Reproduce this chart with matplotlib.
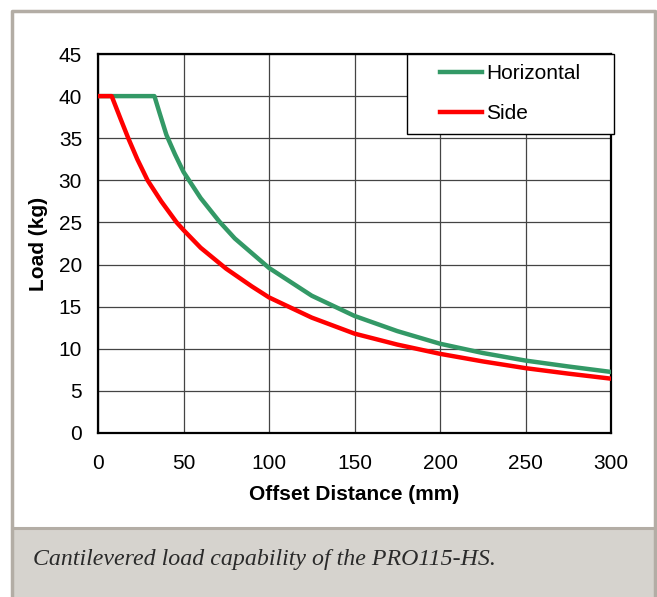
import matplotlib

matplotlib.use("Agg")

import matplotlib.pyplot as plt
from matplotlib.lines import Line2D
from matplotlib.patches import Rectangle

W, H = 657, 597

# values
horiz_x = [0, 33, 36, 40, 45, 50, 60, 71, 80, 100, 125, 150, 175, 200, 225, 250, 275, 300]
horiz_y = [40, 40, 38, 35.4, 33.1, 31.0, 27.9, 25.1, 23.1, 19.6, 16.3, 13.9, 12.1, 10.6, 9.5, 8.6, 7.9, 7.25]
side_x = [0, 8, 13, 17.7, 23, 29, 37, 46, 50, 60, 75, 90, 100, 125, 150, 175, 200, 225, 250, 275, 300]
side_y = [40, 40, 37.4, 35, 32.5, 30, 27.5, 25, 24.1, 22.0, 19.5, 17.4, 16.1, 13.7, 11.8, 10.5, 9.4, 8.5, 7.7, 7.05, 6.45]
x_ticks = [0, 50, 100, 150, 200, 250, 300]
y_ticks = [0, 5, 10, 15, 20, 25, 30, 35, 40, 45]
caption = "Cantilevered load capability of the PRO115-HS."

GREEN = "#339966"
RED = "#FF0000"
BORDER = "#b3ada5"
CAPTION_BG = "#d6d3ce"

plt.rcParams["font.family"] = ["Liberation Sans", "DejaVu Sans"]

fig = plt.figure(figsize=(W / 100, H / 100), dpi=100)
fig.patch.set_facecolor("white")


def fx(px):
    return px / W


def fy(py):
    return 1 - py / H


# caption band and outer frame
fig.patches.append(Rectangle((fx(12), 0), fx(655) - fx(12), fy(528), transform=fig.transFigure,
                             facecolor=CAPTION_BG, edgecolor="none", zorder=0))
fig.add_artist(Line2D([fx(12), fx(655)], [fy(528), fy(528)], transform=fig.transFigure,
                      color=BORDER, lw=2.2))
fig.add_artist(Line2D([fx(12), fx(12), fx(655), fx(655)], [0, fy(11), fy(11), 0],
                      transform=fig.transFigure, color=BORDER, lw=2.5))
fig.text(fx(33), fy(559), caption, family=["Liberation Serif", "DejaVu Serif"], style="italic",
         fontsize=17.2, color="#2a2a2a", va="center", ha="left")

ax = fig.add_axes([fx(98), fy(433), fx(611) - fx(98), fy(54) - fy(433)])
ax.plot(horiz_x, horiz_y, color=GREEN, lw=3.2, solid_joinstyle="round", zorder=3)
ax.plot(side_x, side_y, color=RED, lw=3.2, solid_joinstyle="round", zorder=3)

ax.set_xlim(0, 300)
ax.set_ylim(0, 45)
ax.set_xticks(x_ticks)
ax.set_yticks(y_ticks)
ax.tick_params(length=0, labelsize=15)
ax.tick_params(axis="x", pad=15)
ax.tick_params(axis="y", pad=11.5)
ax.grid(True, color="#444444", lw=0.9)
ax.set_axisbelow(True)
for sp in ax.spines.values():
    sp.set_linewidth(1.6)
    sp.set_color("black")

ax.set_xlabel("Offset Distance (mm)", fontsize=15, fontweight="bold", va="center")
ax.xaxis.set_label_coords(0.5, (433 - 494) / 379)
ax.set_ylabel("Load (kg)", fontsize=15, fontweight="bold", va="center")
ax.yaxis.set_label_coords((39 - 98) / 513, 0.5)

# legend frame drawn by hand, entries by the library legend
fig.patches.append(Rectangle((fx(407), fy(134)), fx(614) - fx(407), fy(54) - fy(134),
                             transform=fig.transFigure, facecolor="white", edgecolor="black",
                             lw=1.0, zorder=5))
handles = [Line2D([], [], color=GREEN, lw=3.2), Line2D([], [], color=RED, lw=3.2)]
leg = fig.legend(handles, ["Horizontal", "Side"], loc="upper left",
                 bbox_to_anchor=(fx(440), fy(64)), frameon=False, fontsize=15,
                 handlelength=2.0, handletextpad=0.2, labelspacing=1.0,
                 borderpad=0, borderaxespad=0)
leg.set_zorder(6)

fig.savefig("out.png", dpi=100)
